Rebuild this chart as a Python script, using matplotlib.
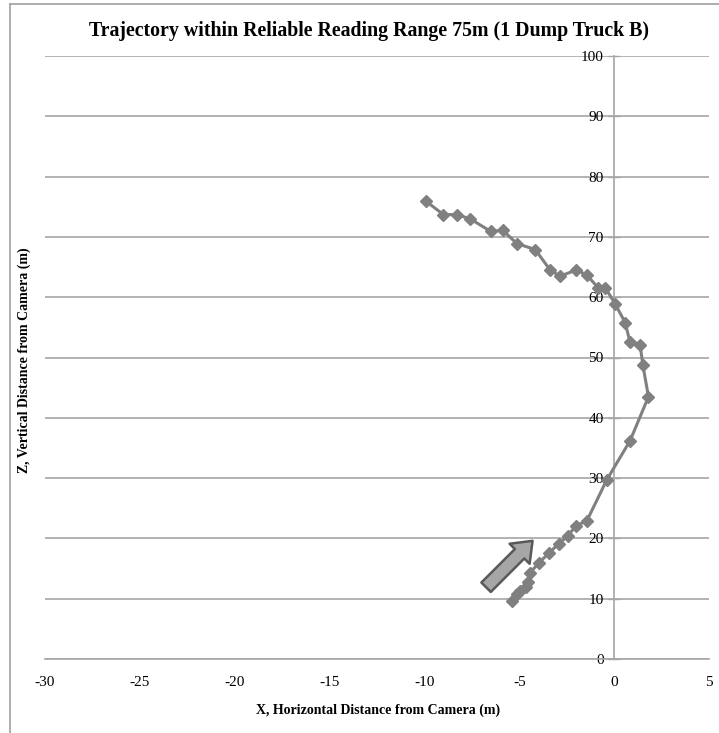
import matplotlib
matplotlib.use("Agg")
import matplotlib.pyplot as plt
from matplotlib.patches import FancyArrowPatch
from matplotlib.lines import Line2D

plt.rcParams['font.family'] = ['Liberation Serif', 'DejaVu Serif']

# Trajectory data (x: horizontal distance, z: vertical distance)
x_vals = [-9.91, -9.0, -8.29, -7.59, -6.50, -5.87, -5.13, -4.16, -3.37, -2.85,
          -2.0, -1.44, -0.83, -0.47, 0.05, 0.58, 0.84, 1.37, 1.51, 1.81,
          0.84, -0.39, -1.44, -2.02, -2.44, -2.93, -3.46, -3.98, -4.46, -4.55,
          -4.65, -4.95, -5.1, -5.4]
z_vals = [75.9, 73.7, 73.7, 73.0, 70.9, 71.1, 68.9, 67.9, 64.5, 63.5,
          64.5, 63.7, 61.5, 61.6, 58.9, 55.8, 52.5, 52.1, 48.8, 43.5,
          36.2, 29.7, 22.9, 22.1, 20.4, 19.1, 17.5, 15.9, 14.2, 12.7,
          12.0, 11.3, 10.8, 9.6]

arrow_start = (-6.75, 11.9)
arrow_end = (-4.3, 19.6)

x_ticks = [-30, -25, -20, -15, -10, -5, 0, 5]
y_ticks = [0, 10, 20, 30, 40, 50, 60, 70, 80, 90, 100]

fig = plt.figure(figsize=(7.19, 7.33), dpi=100)
ax = fig.add_axes([45/719, 1-659/733, (709-45)/719, (659-56)/733])

grid_c = '#a6a6a6'
ax.set_xlim(-30, 5)
ax.set_ylim(0, 100)
ax.set_xticks(x_ticks)
ax.set_yticks(y_ticks)
ax.set_xticklabels([str(v) for v in x_ticks])
ax.set_yticklabels([str(v) for v in y_ticks])
ax.yaxis.grid(True, color=grid_c, linewidth=1.2)
ax.set_axisbelow(True)

for s in ['top', 'right']:
    ax.spines[s].set_visible(False)
ax.spines['left'].set_position(('data', 0))
ax.spines['left'].set_color(grid_c)
ax.spines['left'].set_linewidth(1.2)
ax.spines['bottom'].set_color(grid_c)
ax.spines['bottom'].set_linewidth(1.2)

ax.tick_params(axis='y', direction='inout', length=9, color=grid_c, width=1.0,
               labelsize=11, pad=3)
ax.tick_params(axis='x', length=0, labelsize=11, pad=12)

ax.plot(x_vals, z_vals, color='#808080', linewidth=2.2, marker='D',
        markersize=6, markerfacecolor='#808080', markeredgecolor='#808080',
        zorder=3)

arr = FancyArrowPatch(arrow_start, arrow_end,
                      arrowstyle='simple,head_width=1.7,head_length=1.1,tail_width=0.8',
                      mutation_scale=12, facecolor='#a6a6a6', edgecolor='#595959',
                      linewidth=1.8, shrinkA=0, shrinkB=0, zorder=4)
ax.add_patch(arr)

fig.text(369/719, 1-31/733, 'Trajectory within Reliable Reading Range 75m (1 Dump Truck B)',
         ha='center', va='center', fontsize=14.3, fontweight='bold')
fig.text(378/719, 1-710/733, 'X, Horizontal Distance from Camera (m)',
         ha='center', va='center', fontsize=10, fontweight='bold')
fig.text(24/719, 1-360/733, 'Z, Vertical Distance from Camera (m)',
         ha='center', va='center', fontsize=10, fontweight='bold', rotation=90)

# chart-area border (top and left edges visible)
fig.add_artist(Line2D([10/719, 10/719], [0, 1-4/733], transform=fig.transFigure,
                      color='#a0a0a0', linewidth=1.2))
fig.add_artist(Line2D([10/719, 1], [1-4/733, 1-4/733], transform=fig.transFigure,
                      color='#a0a0a0', linewidth=1.2))

fig.savefig('out.png', dpi=100)
